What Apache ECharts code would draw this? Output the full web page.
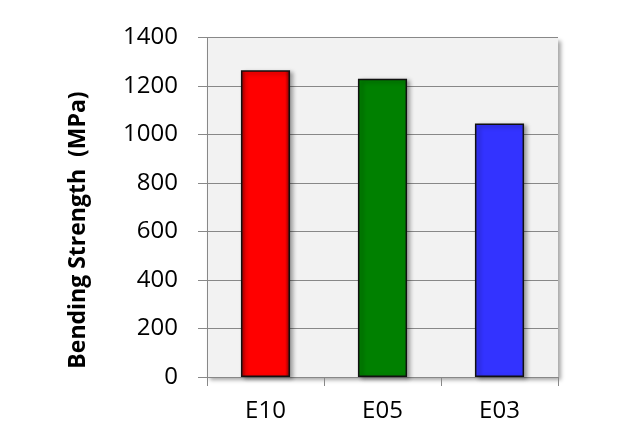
<!DOCTYPE html>
<html><head><meta charset="utf-8">
<script src="https://cdn.jsdelivr.net/npm/echarts@6/dist/echarts.min.js"></script>
<style>html,body{margin:0;padding:0;background:#fff}#c{width:626px;height:444px}</style>
</head><body><div id="c"></div>
<script>
const categories = ['E10', 'E05', 'E03'];
const values = [1265, 1230, 1045];
const yTicks = [0, 200, 400, 600, 800, 1000, 1200, 1400];
const yTitle = 'Bending Strength  (MPa)';

const red = new echarts.graphic.LinearGradient(0, 0, 1, 0, [
  {offset: 0, color: '#8a0000'}, {offset: 0.1, color: '#ff0000'},
  {offset: 0.9, color: '#ff0000'}, {offset: 1, color: '#7a0000'}]);
const colors = [red, '#008000', '#3333ff'];
const FONT = 'Open Sans, Liberation Sans, sans-serif';

const chart = echarts.init(document.getElementById('c'));
chart.setOption({
  animation: false,
  grid: {left: 207, top: 37.5, right: 68, bottom: 67, backgroundColor: '#f2f2f2', show: true,
    borderWidth: 0, shadowColor: 'rgba(0,0,0,0.35)', shadowBlur: 4, shadowOffsetX: 3, shadowOffsetY: 3},
  xAxis: {type: 'category', data: categories,
    axisLine: {show: true, lineStyle: {color: '#888', width: 1}},
    axisTick: {show: true, length: 9, lineStyle: {color: '#888'}},
    axisLabel: {fontFamily: FONT, fontSize: 24, color: '#000', margin: 22}},
  yAxis: {type: 'value', min: 0, max: 1400, interval: 200,
    axisLine: {show: true, lineStyle: {color: '#888', width: 1}},
    axisTick: {show: true, length: 9, lineStyle: {color: '#888'}},
    splitLine: {lineStyle: {color: '#888', width: 1}},
    axisLabel: {fontFamily: FONT, fontSize: 24, color: '#000', margin: 29,
      formatter: v => yTicks.includes(v) ? String(v) : ''}},
  graphic: [{type: 'text', x: 78, y: 230, rotation: Math.PI / 2,
    style: {text: yTitle, fontFamily: FONT, fontSize: 23, fontWeight: 'bold', fill: '#000',
      align: 'center', verticalAlign: 'middle'}}],
  series: [{type: 'bar', barWidth: '42%',
    data: values.map((v, i) => ({value: v, itemStyle: {color: colors[i]}})),
    itemStyle: {borderColor: '#111', borderWidth: 1.5,
      shadowColor: 'rgba(0,0,0,0.35)', shadowBlur: 4, shadowOffsetX: 3, shadowOffsetY: 2}}]
});
</script></body></html>
